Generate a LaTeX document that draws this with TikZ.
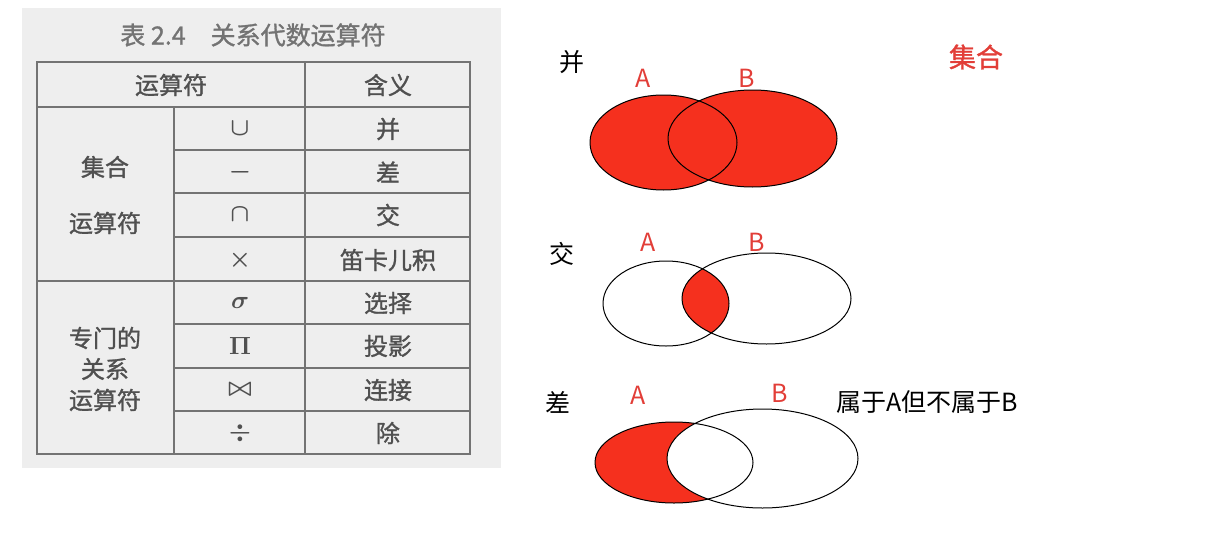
\documentclass[tikz,border=0pt]{standalone}
\usepackage{fontspec}
\newfontfamily\cjk{Noto Sans CJK SC}
\newfontfamily\cjkscan[FakeBold=1.2]{Noto Sans CJK SC}
\definecolor{vennred}{RGB}{245,48,30}
\definecolor{labred}{RGB}{226,62,56}
\definecolor{scan}{RGB}{238,238,238}
\definecolor{ink}{RGB}{80,80,80}

\begin{document}
\begin{tikzpicture}[x=1pt,y=-1pt,
    cell/.style={font=\cjkscan\fontsize{24}{24}\selectfont,text=ink,inner sep=0pt},
    sym/.style={font=\fontsize{24}{24}\selectfont\boldmath,text=ink,inner sep=0pt},
    rule/.style={draw=ink!80,line width=1.5pt},
    ring/.style={draw=black,line width=1pt},
    setlbl/.style={font=\cjk\fontsize{25}{25}\selectfont,text=labred,inner sep=0pt},
    oplbl/.style={font=\cjk\fontsize{25}{25}\selectfont,inner sep=0pt},
  ]
  \useasboundingbox (0,0) rectangle (1220,538);
  % the scanned table on the left
  \fill[scan] (22,8) rectangle (501,468);
  \node[cell,font=\cjkscan\fontsize{25}{25}\selectfont,text=ink!80] (title) at (253,35) {表 2.4\quad 关系代数运算符};
  \draw[rule] (37,62) rectangle (470,454);
  \draw[rule] (305,62) -- (305,454);
  \draw[rule] (174,107) -- (174,454);
  \foreach \yy in {107,281} \draw[rule] (37,\yy) -- (470,\yy);
  \foreach \yy in {150,193,237,324,368,411} \draw[rule] (174,\yy) -- (470,\yy);
  \node[cell] (hdop) at (171,85) {运算符};
  \node[cell] (hdmean) at (388,85) {含义};
  \node[cell] (setop1) at (105,167) {集合};
  \node[cell] (setop2) at (105,223) {运算符};
  \node[cell] (relop1) at (105,338) {专门的};
  \node[cell] (relop2) at (105,369) {关系};
  \node[cell] (relop3) at (105,400) {运算符};
  \foreach \s/\m/\yy [count=\i] in {{$\cup$}/并/129, {$-$}/差/172, {$\cap$}/交/215,
      {$\times$}/笛卡儿积/260, {$\sigma$}/选择/303, {$\Pi$}/投影/346,
      {$\bowtie$}/连接/390, {$\div$}/除/433} {
    \node[sym] (op\i) at (240,\yy) {\s};
    \node[cell] (mean\i) at (388,\yy) {\m};
  }

  % union
  \node[oplbl] (union) at (572,62) {并};
  \node[setlbl] (uA) at (643,78) {A};
  \node[setlbl] (uB) at (747,78) {B};
  \node[setlbl,font=\cjkscan\fontsize{27}{27}\selectfont] (sets) at (976,57) {集合};
  \fill[vennred] (663.5,142.5) ellipse[x radius=73.5pt, y radius=47.5pt];
  \fill[vennred] (752.5,138.5) ellipse[x radius=84.5pt, y radius=48.5pt];
  \draw[ring] (663.5,142.5) ellipse[x radius=73.5pt, y radius=47.5pt];
  \draw[ring] (752.5,138.5) ellipse[x radius=84.5pt, y radius=48.5pt];

  % intersection
  \node[oplbl] (inter) at (562,254) {交};
  \node[setlbl] (iA) at (648,242) {A};
  \node[setlbl] (iB) at (757,242) {B};
  \begin{scope}
    \clip (666,303.5) ellipse[x radius=63pt, y radius=42.5pt];
    \fill[vennred] (766.5,298.5) ellipse[x radius=84.5pt, y radius=45.5pt];
  \end{scope}
  \draw[ring] (666,303.5) ellipse[x radius=63pt, y radius=42.5pt];
  \draw[ring] (766.5,298.5) ellipse[x radius=84.5pt, y radius=45.5pt];

  % difference
  \node[oplbl] (diff) at (558,402) {差};
  \node[setlbl] (dA) at (638,395) {A};
  \node[setlbl] (dB) at (780,393) {B};
  \node[oplbl,anchor=west] (note) at (836,402) {属于A但不属于B};
  \fill[vennred] (674,462.5) ellipse[x radius=79pt, y radius=40.5pt];
  \fill[white] (762.5,458.5) ellipse[x radius=95.5pt, y radius=49.5pt];
  \draw[ring] (674,462.5) ellipse[x radius=79pt, y radius=40.5pt];
  \draw[ring] (762.5,458.5) ellipse[x radius=95.5pt, y radius=49.5pt];
\end{tikzpicture}
\end{document}
